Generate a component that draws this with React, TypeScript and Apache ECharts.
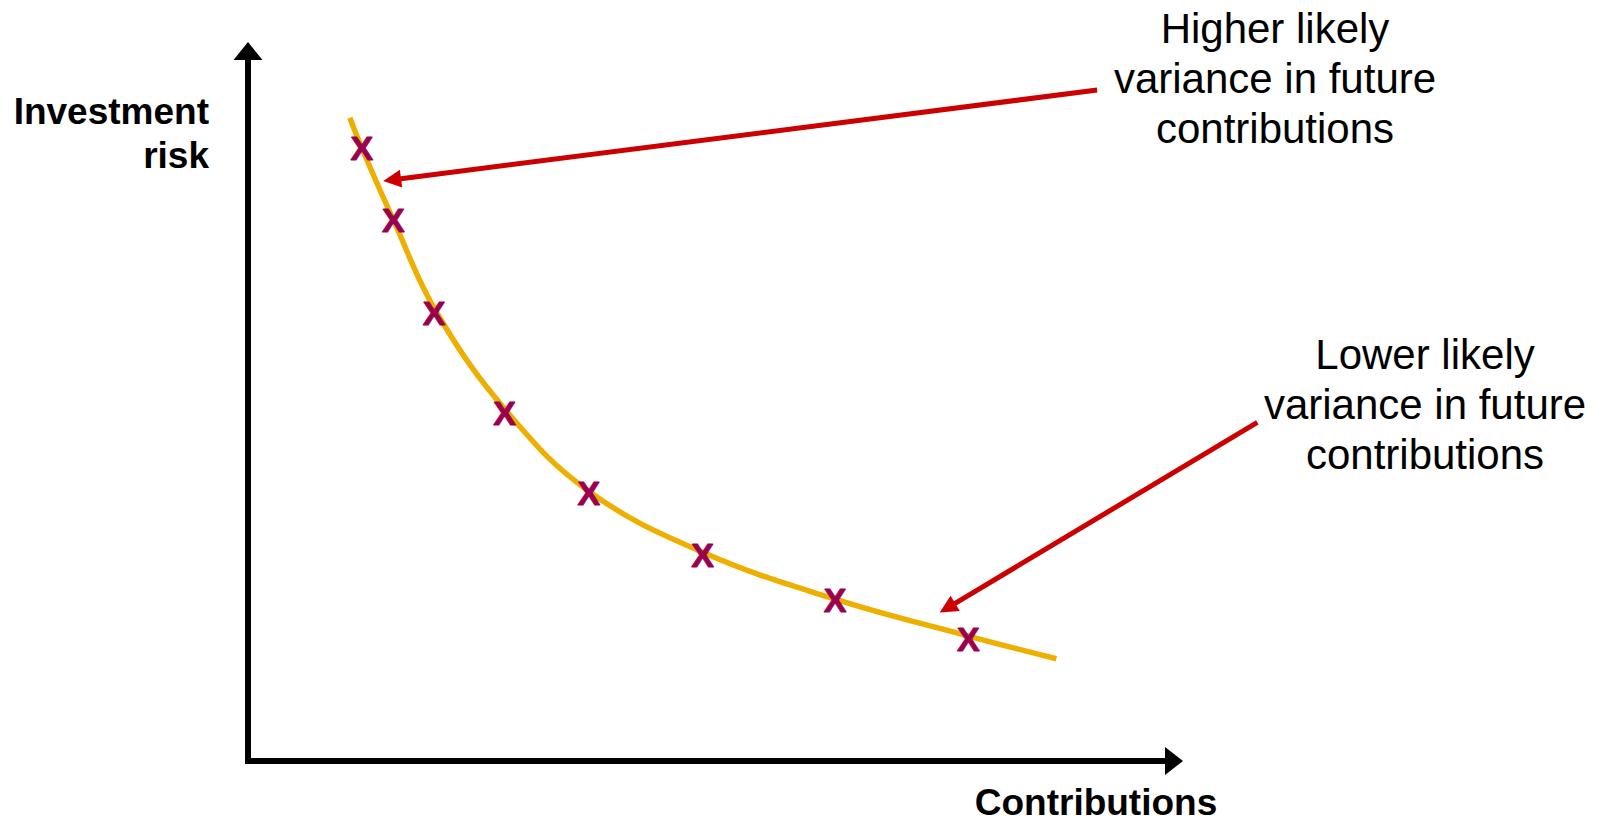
import React, { useEffect, useRef } from "react";
import * as echarts from "echarts";

// Curve (smooth trade-off line), in chart units
const curveX = [11.0, 12.3, 15.7, 20.4, 28.1, 36.9, 49.1, 63.4, 77.8, 87.3];
const curveY = [90.6, 86.3, 76.2, 63.1, 49.0, 37.9, 29.4, 22.8, 17.6, 14.4];

// "X" markers
const markerX = [12.3, 15.7, 20.1, 27.7, 36.8, 49.1, 63.4, 77.8];
const markerY = [86.3, 76.2, 63.1, 49.0, 37.7, 29.0, 22.7, 17.2];
const markerGlyph = "X";

// Axis names
const xAxisName = "Contributions";
const yAxisName = "Investment\nrisk";

// Annotations (arrow tail -> arrow tip, chart units)
const annotationTexts = [
  "Higher likely\nvariance in future\ncontributions",
  "Lower likely\nvariance in future\ncontributions",
];
const arrowTails: [number, number][] = [
  [91.7, 94.5],
  [109.0, 47.7],
];
const arrowTips: [number, number][] = [
  [14.6, 81.7],
  [74.7, 20.9],
];

const FONT = "'Liberation Sans', Arial, Helvetica, sans-serif";
const CURVE_COLOR = "#EDB000";
const MARKER_COLOR = "#9B0050";
const ARROW_COLOR = "#CC0000";

export default function App() {
  const ref = useRef<HTMLDivElement>(null);

  useEffect(() => {
    document.body.style.margin = "0";
    if (!ref.current) return;
    const chart = echarts.init(ref.current, undefined, { renderer: "svg" });

    const option: any = {
      animation: false,
      backgroundColor: "#ffffff",
      grid: {
        left: 248,
        top: 51,
        right: 428,
        bottom: 62,
        containLabel: false,
        outerBoundsMode: "none",
      },
      xAxis: {
        type: "value",
        min: 0,
        max: 100,
        name: xAxisName,
        nameLocation: "end",
        nameGap: -78,
        nameTextStyle: {
          fontFamily: FONT,
          fontSize: 37,
          fontWeight: "bold",
          color: "#000",
          align: "center",
          verticalAlign: "top",
          lineHeight: 34,
          padding: [24, 0, 0, 0],
        },
        axisLine: {
          show: true,
          onZero: false,
          symbol: ["none", "triangle"],
          symbolSize: [28, 18],
          lineStyle: { color: "#000", width: 6, cap: "square" },
        },
        axisTick: { show: false },
        axisLabel: { show: false },
        splitLine: { show: false },
      },
      yAxis: {
        type: "value",
        min: 0,
        max: 100,
        name: yAxisName,
        nameLocation: "end",
        nameGap: 0,
        nameTextStyle: {
          fontFamily: FONT,
          fontSize: 37,
          fontWeight: "bold",
          color: "#000",
          align: "right",
          verticalAlign: "top",
          lineHeight: 44,
          padding: [38, 39, 0, 0],
        },
        axisLine: {
          show: true,
          onZero: false,
          symbol: ["none", "triangle"],
          symbolSize: [29, 18],
          lineStyle: { color: "#000", width: 6, cap: "square" },
        },
        axisTick: { show: false },
        axisLabel: { show: false },
        splitLine: { show: false },
      },
      series: [
        {
          type: "line",
          data: curveX.map((x, i) => [x, curveY[i]]),
          smooth: 0.4,
          showSymbol: false,
          symbol: "none",
          lineStyle: { color: CURVE_COLOR, width: 5.5 },
          z: 2,
          silent: true,
        },
        {
          type: "scatter",
          data: markerX.map((x, i) => [x, markerY[i]]),
          symbol: "circle",
          symbolSize: 1,
          itemStyle: { color: MARKER_COLOR, opacity: 0 },
          label: {
            show: true,
            position: "inside",
            formatter: markerGlyph,
            fontFamily: FONT,
            fontSize: 34,
            fontWeight: "bold",
            color: MARKER_COLOR,
            textBorderColor: MARKER_COLOR,
            textBorderWidth: 1,
            opacity: 1,
          },
          z: 3,
          silent: true,
        },
      ],
    };

    chart.setOption(option);

    const graphics: any[] = [];
    const HEAD_LEN = 18;
    const HEAD_HALF = 9;
    arrowTails.forEach((tail, i) => {
      const t = chart.convertToPixel({ gridIndex: 0 }, tail) as number[];
      const p = chart.convertToPixel({ gridIndex: 0 }, arrowTips[i]) as number[];
      const dx = p[0] - t[0];
      const dy = p[1] - t[1];
      const len = Math.sqrt(dx * dx + dy * dy);
      const ux = dx / len;
      const uy = dy / len;
      const bx = p[0] - ux * HEAD_LEN;
      const by = p[1] - uy * HEAD_LEN;
      const nx = -uy;
      const ny = ux;
      graphics.push({
        type: "line",
        shape: { x1: t[0], y1: t[1], x2: bx + ux * 2, y2: by + uy * 2 },
        style: { stroke: ARROW_COLOR, lineWidth: 5, lineCap: "butt" },
        z: 10,
        silent: true,
      });
      graphics.push({
        type: "polygon",
        shape: {
          points: [
            [p[0], p[1]],
            [bx + nx * HEAD_HALF, by + ny * HEAD_HALF],
            [bx - nx * HEAD_HALF, by - ny * HEAD_HALF],
          ],
        },
        style: { fill: ARROW_COLOR },
        z: 10,
        silent: true,
      });
    });

    const textPos = [
      [1275, 3.5],
      [1425, 329.5],
    ];
    annotationTexts.forEach((txt, i) => {
      graphics.push({
        type: "text",
        x: textPos[i][0],
        y: textPos[i][1],
        style: {
          text: txt,
          fontFamily: FONT,
          fontSize: 42,
          fill: "#000",
          align: "center",
          verticalAlign: "top",
          lineHeight: 50,
        },
        z: 10,
        silent: true,
      });
    });

    chart.setOption({ graphic: graphics });

    return () => {
      chart.dispose();
    };
  }, []);

  return <div ref={ref} style={{ width: 1602, height: 823 }} />;
}
